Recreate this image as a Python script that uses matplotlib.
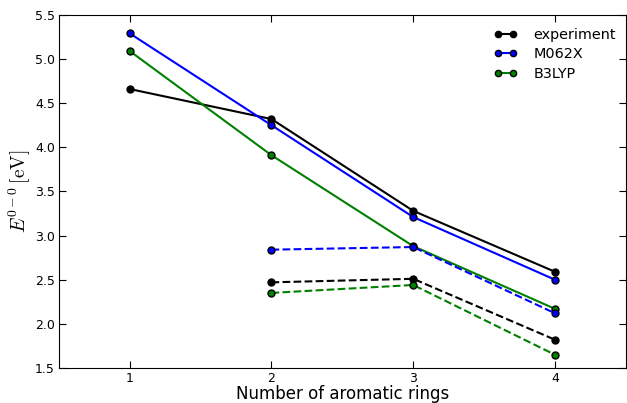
import matplotlib
matplotlib.use("Agg")
import matplotlib.pyplot as plt

rings = [1, 2, 3, 4]
exp_solid = [4.66, 4.32, 3.28, 2.59]
m06_solid = [5.29, 4.25, 3.21, 2.50]
b3_solid = [5.09, 3.91, 2.88, 2.17]

rings_d = [2, 3, 4]
exp_dash = [2.47, 2.51, 1.82]
m06_dash = [2.84, 2.87, 2.12]
b3_dash = [2.35, 2.44, 1.65]

xticks = [1, 2, 3, 4]
yticks = [1.5, 2.0, 2.5, 3.0, 3.5, 4.0, 4.5, 5.0, 5.5]

plt.rcParams['mathtext.fontset'] = 'cm'
fig = plt.figure(figsize=(6.27, 4.03), dpi=100)
ax = fig.add_axes([0.094, 0.087, 0.904, 0.876])

kw = dict(marker='o', markersize=5, markeredgecolor='black', lw=1.5)
ax.plot(rings, exp_solid, color='black', label='experiment', **kw)
ax.plot(rings, m06_solid, color='blue', label='M062X', **kw)
ax.plot(rings, b3_solid, color='green', label='B3LYP', **kw)
ax.plot(rings_d, exp_dash, color='black', ls='--', **kw)
ax.plot(rings_d, m06_dash, color='blue', ls='--', **kw)
ax.plot(rings_d, b3_dash, color='green', ls='--', **kw)

ax.set_xlim(0.5, 4.5)
ax.set_ylim(1.5, 5.5)
ax.set_xticks(xticks)
ax.set_yticks(yticks)
ax.tick_params(direction='in', top=True, right=True, labelsize=9, length=5, pad=3)
ax.set_xlabel('Number of aromatic rings', fontsize=12, labelpad=0)
ax.set_ylabel(r'$E^{0-0}\,[\mathrm{eV}]$', fontsize=14, labelpad=1)
ax.legend(loc='upper right', frameon=False, numpoints=2, fontsize=10.4,
          handlelength=1.65, handletextpad=1.1, labelspacing=0.38,
          markerscale=0.9, borderaxespad=0.3, bbox_to_anchor=(1.0, 0.992))

fig.savefig('out.png', dpi=100)
